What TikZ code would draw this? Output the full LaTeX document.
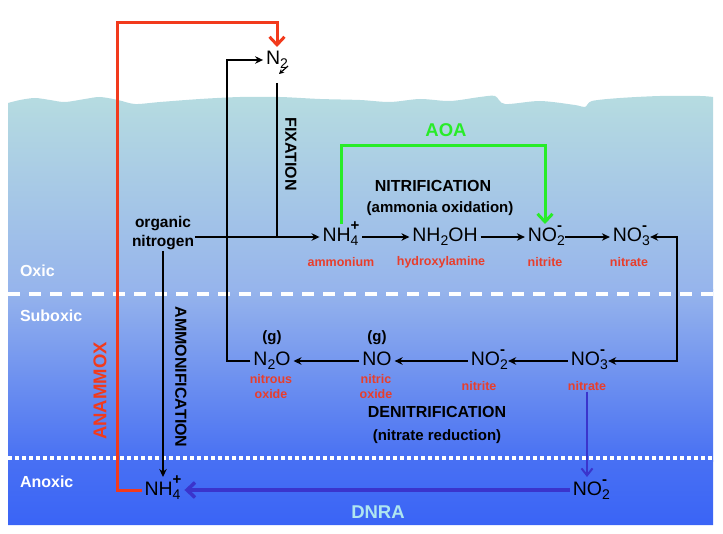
\documentclass[tikz,border=0pt]{standalone}
\usepackage{fontspec}
\setmainfont{Liberation Sans}
\usetikzlibrary{arrows,arrows.meta,positioning}
\definecolor{wtop}{RGB}{183,221,224}
\definecolor{wmid}{RGB}{150,180,236}
\definecolor{wlow}{RGB}{72,112,243}
\definecolor{wbot}{RGB}{58,100,246}
\definecolor{labred}{RGB}{232,62,44}
\definecolor{anamred}{RGB}{242,58,28}
\definecolor{aoagreen}{RGB}{40,236,40}
\definecolor{dnrablue}{RGB}{58,52,204}
\definecolor{dnratext}{RGB}{175,230,240}
\newcommand\csub[1]{\raisebox{-4pt}{\fontsize{14}{14}\selectfont#1}}
\newcommand\chg[2]{\rlap{\csub{#1}}\raisebox{11pt}{\fontsize{15}{15}\selectfont\bfseries#2}}

\begin{document}
\begin{tikzpicture}[x=1pt,y=-1pt,->,>={Stealth[length=8pt,width=7.5pt]},line width=2pt,
  chem/.style={font=\fontsize{19.5}{21}\selectfont,text height=15pt,text depth=5pt,inner sep=2pt},
  lbl/.style={font=\bfseries\fontsize{12.5}{15}\selectfont,text=labred,align=center,inner sep=0pt},
  proc/.style={font=\bfseries\fontsize{16}{18}\selectfont,inner sep=0pt},
  sub/.style={font=\bfseries\fontsize{15}{17}\selectfont,inner sep=0pt},
  zone/.style={font=\bfseries\fontsize{16}{18}\selectfont,text=white,anchor=west,inner sep=0pt},
  big/.style={font=\bfseries\fontsize{18.5}{21}\selectfont,inner sep=0pt},
  barb/.style={>={Straight Barb[length=8pt,width=15pt]}}]
  \useasboundingbox (0,0) rectangle (723,534);

  \begin{scope}[-]
    \clip plot[smooth] coordinates {(8,103) (20,100) (35,98) (50,100) (65,102) (85,99) (100,97) (118,100)
      (135,104) (160,102) (200,99) (240,97) (280,97) (320,99) (360,100) (390,102) (420,99) (450,101)
      (480,97) (495,96) (505,104) (540,101) (575,105) (585,107) (592,101) (620,98) (660,96) (700,96) (713,97)}
      -- (713,525) -- (8,525) -- cycle;
    \shade[top color=wtop,bottom color=wmid] (0,90) rectangle (723,291);
    \shade[top color=wmid,bottom color=wlow] (0,290) rectangle (723,461);
    \shade[top color=wlow,bottom color=wbot] (0,460) rectangle (723,526);
  \end{scope}
  \draw[-,white,line width=3.5pt,dash pattern=on 12pt off 9pt] (8,294) -- (713,294);
  \draw[-,white,line width=4pt,dash pattern=on 4pt off 3pt] (8,458) -- (713,458);

  \node[zone](oxic) at (19,271){Oxic};
  \node[zone](suboxic) at (19,316){Suboxic};
  \node[zone](anoxic) at (19,482){Anoxic};

  \node[chem](n2) at (277,60){N\csub{2}};
  \node[proc,align=center,font=\bfseries\fontsize{15.5}{19}\selectfont](orgn) at (163,233){organic\\nitrogen};
  \node[chem](nh4) at (341,237){NH\chg{4}{+}};
  \node[chem](nh2oh) at (445,237){NH\csub{2}OH};
  \node[chem](no2a) at (545,237){NO\chg{2}{-}};
  \node[chem](no3a) at (630,237){NO\chg{3}{-}};
  \node[lbl](lnh4) at (341,262){ammonium};
  \node[lbl](lnh2oh) at (441,262){hydroxylamine};
  \node[lbl](lno2a) at (545,262){nitrite};
  \node[lbl](lno3a) at (629,262){nitrate};

  \node[chem](no3b) at (588,361){NO\chg{3}{-}};
  \node[chem](no2b) at (488,361){NO\chg{2}{-}};
  \node[chem](no) at (377,361){NO};
  \node[chem](n2o) at (272,361){N\csub{2}O};
  \node[sub](gn2o) at (272,338){(g)};
  \node[sub](gno) at (377,338){(g)};
  \node[lbl](ln2o) at (271,387){nitrous\\oxide};
  \node[lbl](lno) at (376,387){nitric\\oxide};
  \node[lbl](lno2b) at (479,386){nitrite};
  \node[lbl](lno3b) at (587,386){nitrate};

  \node[chem](nh4c) at (163,490){NH\chg{4}{+}};
  \node[chem](no2c) at (590,490){NO\chg{2}{-}};

  \node[proc](nitri) at (433,186){NITRIFICATION};
  \node[sub](nitrisub) at (440,209){(ammonia oxidation)};
  \node[proc](denit) at (437,412){DENITRIFICATION};
  \node[sub](denitsub) at (437,437){(nitrate reduction)};
  \node[proc,rotate=-90](fix) at (291,154){FIXATION};
  \node[proc,rotate=-90](ammon) at (181,377){AMMONIFICATION};
  \node[big,text=anamred,rotate=90](anam) at (100,391){ANAMMOX};
  \node[big,text=aoagreen](aoa) at (446,130){AOA};
  \node[big,text=dnratext](dnra) at (378,512){DNRA};

  \coordinate(anamtop) at (117,23);
  \coordinate(aoatop) at (400,146);
  \coordinate(n2loop) at (227,200);
  \coordinate(fixtop) at (277,83);
  \coordinate(fixtick) at (288,66);
  \coordinate(no3loop) at (677,300);

  \path(orgn.east |- nh4.west) edge (nh4.west);
  \path(nh4) edge (nh2oh);
  \path(nh2oh) edge (no2a);
  \path(no2a) edge (no3a);
  \path(no3b) edge (no2b);
  \path(no2b) edge (no);
  \path(no) edge (n2o);
  \draw[-](fixtop) -- (fixtop |- nh4.west);
  \draw[line width=1.2pt,>={Stealth[length=5pt,width=5pt]}](fixtick) -- ++(-9,8);
  \draw(n2o.west) -| (n2loop |- n2.west) -- (n2.west);
  \draw[<->](no3a.east) -| (no3loop) |- (no3b.east);
  \draw(orgn.south) -- (orgn.south |- nh4c.north);
  \draw[anamred,line width=3pt,barb](nh4c.west) -| (anamtop) -| (n2.north);
  \draw[aoagreen,line width=3pt,barb](nh4.north) |- (aoatop) -| (no2a.north);
  \draw[dnrablue,>={Straight Barb[length=7pt,width=11pt]}](lno3b.south) -- (lno3b.south |- no2c.north);
  \draw[dnrablue,line width=3.5pt,barb](no2c.west) -- (nh4c.east);
\end{tikzpicture}
\end{document}
